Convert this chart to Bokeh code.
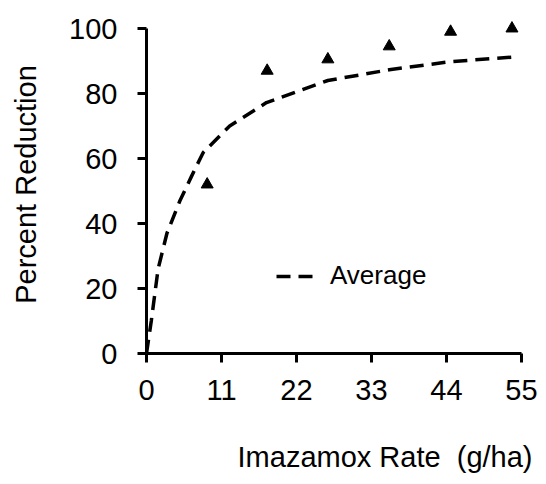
from bokeh.plotting import figure
from bokeh.models import Range1d, FixedTicker, Legend, LegendItem, Title
from bokeh.embed import file_html
from bokeh.resources import INLINE

# Data
rate = [8.9, 17.7, 26.6, 35.6, 44.6, 53.6]
reduction = [52, 87, 90.5, 94.5, 99, 100]
avg_rate = [0, 0.7, 1.7, 3.0, 4.9, 6.6, 8.3, 12.2, 17.6, 26.6, 35.6, 44.6, 53.6]
avg_reduction = [0, 10, 26, 37, 47, 54.5, 61.8, 70, 77.2, 84, 87.3, 89.8, 91.2]
x_ticks = [0, 11, 22, 33, 44, 55]
y_ticks = [0, 20, 40, 60, 80, 100]
x_title = "Imazamox Rate\u00a0 (g/ha)"
y_title = "Percent Reduction"

FONT = "Liberation Sans"

p = figure(width=545, height=483, output_backend="svg", toolbar_location=None,
           x_range=Range1d(0, 55), y_range=Range1d(0, 104),
           min_border_left=146, min_border_right=24, min_border_top=15, min_border_bottom=130)
p.outline_line_color = None
p.grid.visible = False
p.background_fill_color = "white"
p.border_fill_color = "white"

line = p.line(avg_rate, avg_reduction, line_color="black", line_width=3.5, line_dash="14 8")
p.scatter(rate, reduction, marker="triangle", size=12, color="black")

for ax in (p.xaxis[0], p.yaxis[0]):
    ax.axis_line_width = 3
    ax.axis_line_color = "black"
    ax.major_tick_line_width = 3
    ax.major_tick_line_color = "black"
    ax.major_tick_in = 0
    ax.major_tick_out = 9
    ax.minor_tick_line_color = None
    ax.major_label_text_font = FONT
    ax.major_label_text_font_size = "29px"
    ax.major_label_text_color = "black"
    ax.axis_label_text_font = FONT
    ax.axis_label_text_font_size = "29px"
    ax.axis_label_text_font_style = "normal"
    ax.axis_label_text_color = "black"

p.xaxis[0].ticker = FixedTicker(ticks=x_ticks)
p.yaxis[0].ticker = FixedTicker(ticks=y_ticks)
p.xaxis[0].bounds = (0, 55)
p.yaxis[0].bounds = (0, 100)
p.yaxis[0].axis_label = y_title
p.xaxis[0].major_label_standoff = 17
p.yaxis[0].major_label_standoff = 20
p.yaxis[0].axis_label_standoff = 24

# x-axis title, right-aligned slightly past the axis end as in the reference
xtitle = Title(text="\n" + x_title, align="right", offset=-11, standoff=8,
               vertical_align="bottom", text_font=FONT, text_font_size="29px",
               text_font_style="normal", text_color="black")
p.add_layout(xtitle, "below")

legend = Legend(items=[LegendItem(label="Average", renderers=[line])],
                location=(130, 62), glyph_width=38, glyph_height=20,
                label_standoff=16, padding=0, margin=0, spacing=0,
                border_line_alpha=0, background_fill_alpha=0,
                label_text_font=FONT, label_text_font_size="26px",
                label_text_color="black")
p.add_layout(legend)

open("out.html", "w").write(file_html(p, INLINE))
